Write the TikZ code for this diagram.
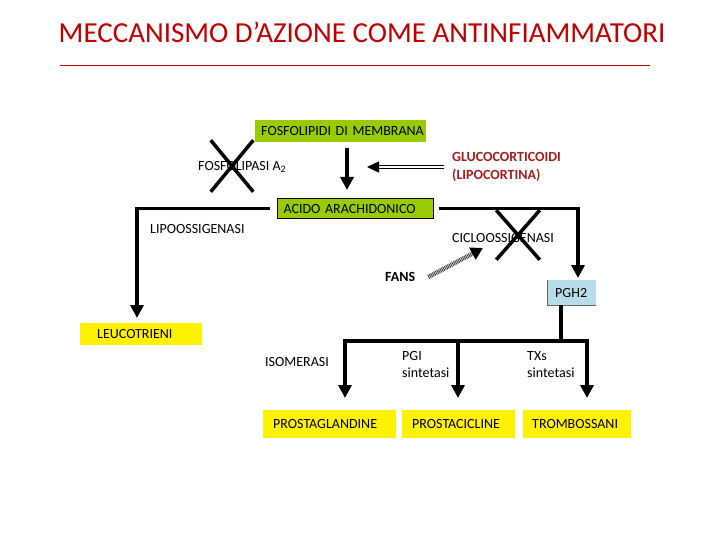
\documentclass[tikz,border=0pt]{standalone}
\usepackage{fontspec}
\setmainfont{Carlito}
\usetikzlibrary{arrows.meta,positioning,shapes.misc}
\definecolor{titlered}{HTML}{C00000}
\definecolor{glucored}{HTML}{A01E1E}
\definecolor{limegreen}{HTML}{99CC00}
\definecolor{pghblue}{HTML}{B7DEE8}
\tikzset{
  lbl/.style={anchor=west,inner sep=0pt,align=left,font=\fontsize{14}{17}\selectfont},
  box/.style={anchor=north west,inner ysep=0pt,align=left,font=\fontsize{14}{17}\selectfont},
  gbox/.style={box,fill=limegreen},
  ybox/.style={box,fill=yellow},
  bbox/.style={box,fill=pghblue},
  flow/.style={line width=3.5pt,-{Triangle[length=13pt,width=13pt]}},
  flowline/.style={line width=3.5pt},
  dblarrow/.style={double,double distance=1.8pt,line width=1.4pt,-{Triangle[length=12pt,width=11pt]}},
  hatcharrow/.style={line width=4.5pt,black!75,dash pattern=on 0.9pt off 0.8pt,-{Triangle[length=12pt,width=13pt,color=black]}},
  xmark/.style={cross out,draw,line width=3.5pt,inner sep=0pt},
  every node/.style={text=black}
}

\begin{document}
\begin{tikzpicture}[x=1pt,y=-1pt]
\useasboundingbox (0,0) rectangle (720,540);

% title and rule
\node[font=\fontsize{29}{33}\selectfont,text=titlered] (title) at (362,32) {MECCANISMO D’AZIONE COME ANTINFIAMMATORI};
\coordinate (rl) at (60,65);
\coordinate (rr) at (650,65);
\draw[titlered,line width=0.8pt] (rl) -- (rr);

% boxes
\node[gbox,inner xsep=6pt,text width=159pt,minimum height=22pt] (fosfo) at (255,120) {\mbox{FOSFOLIPIDI DI MEMBRANA}};
\node[gbox,draw,line width=1.2pt,inner xsep=6pt,text width=144pt,minimum height=20pt] (acido) at (277,198) {\mbox{ACIDO ARACHIDONICO}};
\node[ybox,inner xsep=17pt,text width=88pt,minimum height=22pt] (leuco) at (80,323) {LEUCOTRIENI};
\node[bbox,inner xsep=8pt,text width=33pt,minimum height=25pt] (pgh) at (547,280) {PGH2};
\draw[black!60,line width=0.8pt] (pgh.north west) -- (pgh.south west) -- (pgh.south east);
\node[ybox,inner xsep=10pt,text width=113pt,minimum height=28pt] (prostag) at (263,410) {PROSTAGLANDINE};
\node[ybox,inner xsep=10pt,text width=93pt,minimum height=28pt] (prostac) at (402,410) {PROSTACICLINE};
\node[ybox,inner xsep=9pt,text width=90pt,minimum height=28pt] (tromb) at (523,410) {TROMBOSSANI};

% labels
\node[lbl] (lipasi) at (198,167) {FOSFOLIPASI A\textsubscript{2}};
\node[lbl,font=\fontsize{14}{18}\selectfont\bfseries,text=glucored] (gluco) at (452,167) {GLUCOCORTICOIDI\\(LIPOCORTINA)};
\node[lbl] (lipox) at (150,229) {LIPOOSSIGENASI};
\node[lbl] (ciclo) at (452,238) {CICLOOSSIGENASI};
\node[lbl,font=\fontsize{14}{17}\selectfont\bfseries] (fans) at (385,277) {FANS};
\node[lbl] (isom) at (265,362) {ISOMERASI};
\node[lbl] (pgi) at (402,365) {PGI\\sintetasi};
\node[lbl] (txs) at (527,365) {TXs\\sintetasi};

% blocked enzymes
\node[xmark,minimum width=39pt,minimum height=48pt] (xlipasi) at (232,166) {};
\node[xmark,minimum width=40pt,minimum height=46pt] (xciclo) at (518,235) {};

% main pathway
\coordinate (fa) at (347,148);
\draw[flow] (fa) -- (fa |- 0,190);
\draw[dblarrow] ([xshift=-8pt]gluco.west) -- ++(-77,0);

% lipoxygenase branch
\coordinate (ltip) at (137,318);
\draw[flow,shorten <=7pt] (acido.west) -| (ltip);

% cyclooxygenase branch
\coordinate (ptip) at (578,278);
\draw[flow,shorten <=5pt] (acido.east) -| (ptip);
\coordinate (fanstip) at (483,248);
\draw[hatcharrow] ([xshift=13pt]fans.east) -- (fanstip);

% PGH2 fork
\coordinate (fork) at (561,341);
\coordinate (b1) at (345,341);
\coordinate (b2) at (458,341);
\coordinate (b3) at (587,341);
\draw[flowline] (fork |- pgh.south) -- (fork);
\draw[flowline] ([xshift=-1.75pt]b1) -- ([xshift=1.75pt]b3);
\draw[flow,shorten >=12pt] (b1) -- (b1 |- prostag.north);
\draw[flow,shorten >=12pt] (b2) -- (b2 |- prostac.north);
\draw[flow,shorten >=12pt] (b3) -- (b3 |- tromb.north);
\end{tikzpicture}
\end{document}
